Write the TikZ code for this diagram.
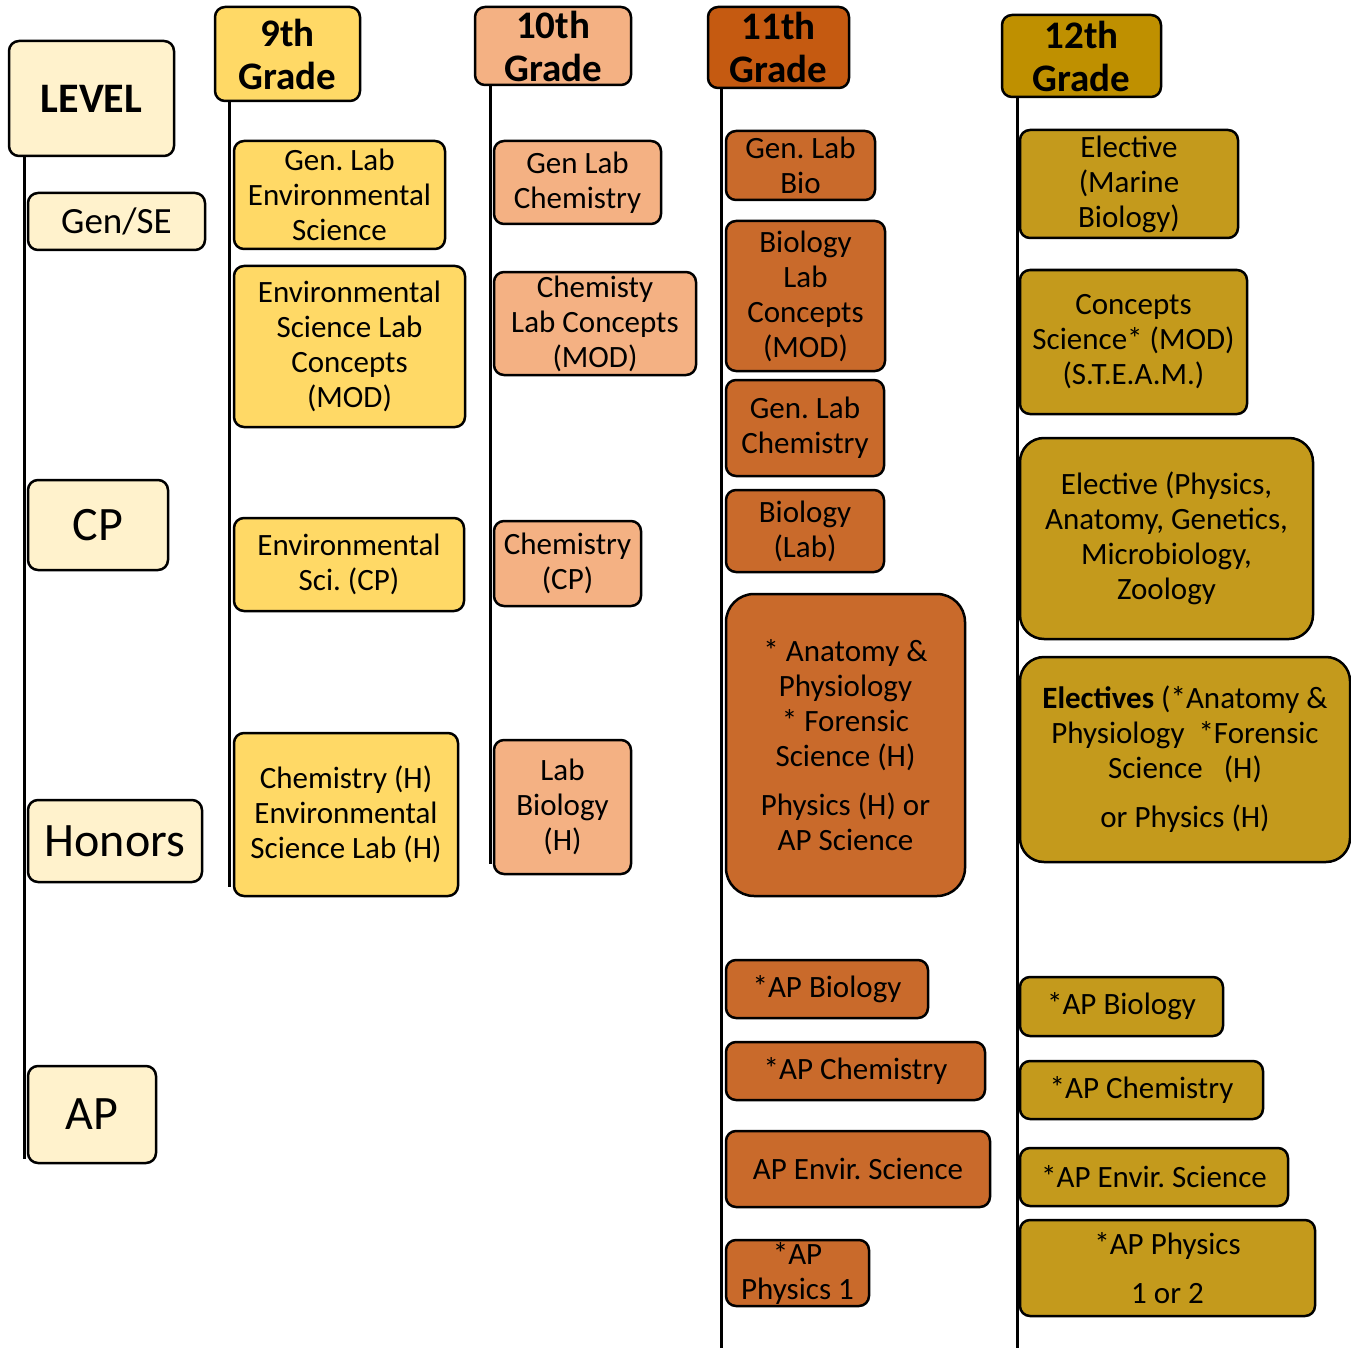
\documentclass[tikz,border=0pt]{standalone}
\usepackage{fontspec}
\setmainfont{Carlito}
\frenchspacing
\definecolor{lvl}{HTML}{FFF2CC}
\definecolor{gnine}{HTML}{FFD966}
\definecolor{gten}{HTML}{F4B183}
\definecolor{gelevh}{HTML}{C55A11}
\definecolor{gelev}{HTML}{C96A2B}
\definecolor{gtwelh}{HTML}{BF9000}
\definecolor{gtwel}{HTML}{C49A1C}
\tikzset{
  box/.style={draw=black, line width=2.5pt, rounded corners=10pt, align=center,
    inner sep=0pt, font=\fontsize{31}{35}\selectfont},
  bigr/.style={rounded corners=28pt},
  hdr/.style={box, font=\bfseries\fontsize{39}{43}\selectfont},
  lvlbox/.style={box, fill=lvl, font=\fontsize{48}{52}\selectfont},
  spine/.style={line width=3pt, line cap=rect},
}
\begin{document}
\begin{tikzpicture}[x=1pt,y=-1pt]
\useasboundingbox (0,0) rectangle (1351,1348);
% level column
\node[box, fill=lvl, font=\bfseries\fontsize{42}{46}\selectfont, minimum width=165pt, minimum height=115pt] (lev) at (91.5,98.5) {LEVEL};
\node[box, fill=lvl, font=\fontsize{37}{40}\selectfont, minimum width=177pt, minimum height=57pt] (gense) at (116.5,221.5) {Gen/SE};
\node[lvlbox, minimum width=140pt, minimum height=90pt] (cp) at (98,525) {CP};
\node[lvlbox, minimum width=174pt, minimum height=82pt] (hon) at (115,841) {Honors};
\node[lvlbox, minimum width=128pt, minimum height=97pt] (ap) at (92,1114.5) {AP};
% headers
\node[hdr, fill=gnine, minimum width=145pt, minimum height=94pt] (h9) at (287.5,54) {9th\\Grade};
\node[hdr, fill=gten, minimum width=156pt, minimum height=78pt] (h10) at (553,46) {10th\\Grade};
\node[hdr, fill=gelevh, minimum width=141pt, minimum height=81pt] (h11) at (778.5,47.5) {11th\\Grade};
\node[hdr, fill=gtwelh, minimum width=159pt, minimum height=82pt] (h12) at (1081.5,56) {12th\\Grade};
% spines
\coordinate (eL) at (24,1157);
\coordinate (e9) at (229,885);
\coordinate (e10) at (490,862);
\coordinate (e11) at (721,1348);
\coordinate (e12) at (1017,1348);
\draw[spine] (lev.south -| eL) -- (eL);
\draw[spine] (h9.south -| e9) -- (e9);
\draw[spine] (h10.south -| e10) -- (e10);
\draw[spine] (h11.south -| e11) -- (e11);
\draw[spine] (h12.south -| e12) -- (e12);
% 9th
\node[box, fill=gnine, minimum width=211pt, minimum height=108pt] (a1) at (339.5,195) {Gen. Lab\\Environmental\\Science};
\node[box, fill=gnine, minimum width=231pt, minimum height=161pt] (a2) at (349.5,346.5) {Environmental\\Science Lab\\Concepts\\(MOD)};
\node[box, fill=gnine, minimum width=230pt, minimum height=93pt] (a3) at (349,564.5) {Environmental\\Sci. (CP)};
\node[box, fill=gnine, minimum width=224pt, minimum height=163pt] (a4) at (346,814.5) {Chemistry (H)\\Environmental\\Science Lab (H)};
% 10th
\node[box, fill=gten, minimum width=167pt, minimum height=83pt] (b1) at (577.5,182.5) {Gen Lab\\Chemistry};
\node[box, fill=gten, minimum width=202pt, minimum height=103pt] (b2) at (595,323.5) {Chemisty\\Lab Concepts\\(MOD)};
\node[box, fill=gten, minimum width=147pt, minimum height=85pt] (b3) at (567.5,563.5) {Chemistry\\(CP)};
\node[box, fill=gten, minimum width=137pt, minimum height=134pt] (b4) at (562.5,807) {Lab\\Biology\\(H)};
% 11th
\node[box, fill=gelev, minimum width=149pt, minimum height=69pt] (c1) at (800.5,165.5) {Gen. Lab\\Bio};
\node[box, fill=gelev, minimum width=159pt, minimum height=150pt] (c2) at (805.5,296) {Biology\\Lab\\Concepts\\(MOD)};
\node[box, fill=gelev, minimum width=158pt, minimum height=96pt] (c3) at (805,428) {Gen. Lab\\Chemistry};
\node[box, fill=gelev, minimum width=158pt, minimum height=82pt] (c4) at (805,531) {Biology\\(Lab)};
\node[box, bigr, fill=gelev, minimum width=239pt, minimum height=302pt] (c5) at (845.5,745) {* Anatomy \&\\Physiology\\* Forensic\\Science (H)\\[14pt]Physics (H) or\\AP Science};
\node[box, fill=gelev, minimum width=202pt, minimum height=58pt] (c6) at (827,989) {*AP Biology};
\node[box, fill=gelev, minimum width=259pt, minimum height=58pt] (c7) at (855.5,1071) {*AP Chemistry};
\node[box, fill=gelev, minimum width=264pt, minimum height=76pt] (c8) at (858,1169) {AP Envir. Science};
\node[box, fill=gelev, minimum width=143pt, minimum height=66pt] (c9) at (797.5,1273) {*AP\\Physics 1};
% 12th
\node[box, fill=gtwel, minimum width=218pt, minimum height=108pt] (d1) at (1129,184) {Elective\\(Marine\\Biology)};
\node[box, fill=gtwel, minimum width=227pt, minimum height=144pt] (d2) at (1133.5,342) {Concepts\\Science* (MOD)\\(S.T.E.A.M.)};
\node[box, fill=gtwel, rounded corners=24pt, minimum width=293pt, minimum height=201pt] (d3) at (1166.5,538.5) {Elective (Physics,\\Anatomy, Genetics,\\Microbiology,\\Zoology};
\node[box, fill=gtwel, rounded corners=24pt, minimum width=330pt, minimum height=205pt] (d4) at (1185,759.5) {\textbf{Electives} (*Anatomy \&\\Physiology \ *Forensic\\Science \ \ (H)\\[14pt]or Physics (H)};
\node[box, fill=gtwel, minimum width=203pt, minimum height=59pt] (d5) at (1121.5,1006.5) {*AP Biology};
\node[box, fill=gtwel, minimum width=243pt, minimum height=58pt] (d6) at (1141.5,1090) {*AP Chemistry};
\node[box, fill=gtwel, minimum width=268pt, minimum height=58pt] (d7) at (1154,1177) {*AP Envir. Science};
\node[box, fill=gtwel, minimum width=295pt, minimum height=96pt] (d8) at (1167.5,1268) {*AP Physics\\[14pt]1 or 2};
\end{tikzpicture}
\end{document}
